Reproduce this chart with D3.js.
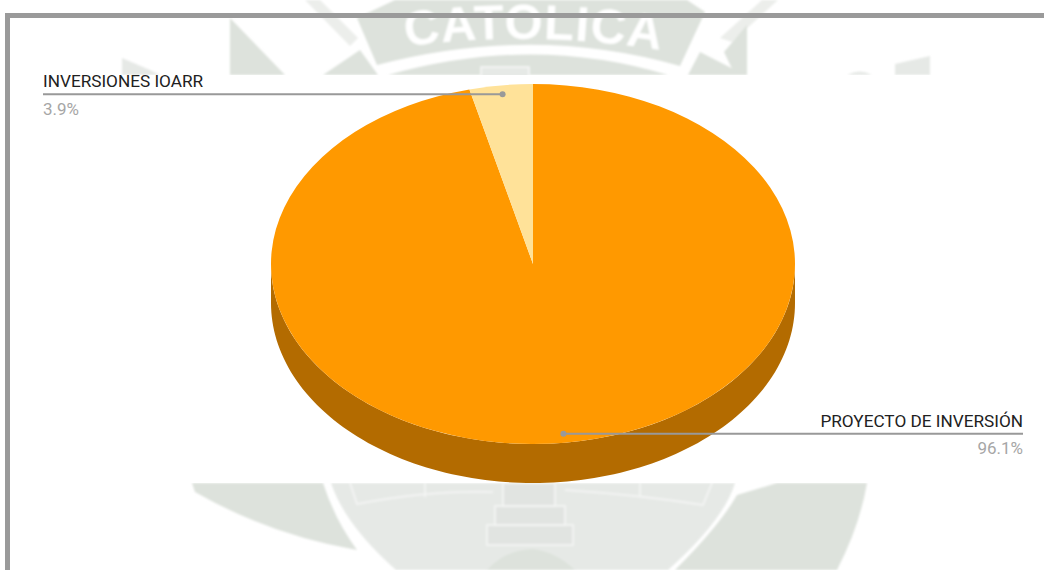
<!DOCTYPE html>
<html><head><meta charset="utf-8">
<style>html,body{margin:0;padding:0;background:#fff}svg{display:block}text{font-family:Roboto,sans-serif}</style>
<script src="https://cdnjs.cloudflare.com/ajax/libs/d3/7.8.5/d3.min.js"></script>
</head><body><svg id="c" width="1044" height="570"></svg>
<script>
const categories = ["PROYECTO DE INVERSIÓN", "INVERSIONES IOARR"];
const shares = [96.1, 3.9];
const shareLabels = ["96.1%", "3.9%"];
const sliceColors = ["#ff9900", "#ffe299"];
const sideColor = "#b36b00";

const W = 1044, H = 570;
const cx = 533, cy = 264, rx = 262, ry = 180, depth = 39;
const svg = d3.select("#c");

/* ---- watermark behind the chart ---- */
const defs = svg.append("defs");
defs.append("filter").attr("id", "soft").append("feGaussianBlur").attr("stdDeviation", 0.8);
const wm = svg.append("g").attr("filter", "url(#soft)");
const dark = "#dde2dc", lite = "#e6e9e6", stripe = "#eceeeb";
const poly = (d, f, o = 1) => wm.append("path").attr("d", d).attr("fill", f).attr("opacity", o);
poly("M230 18L285 75H230Z", dark);
poly("M305 0L320 0L358 38L350 46Z", stripe);
poly("M323 75L360 50L378 75Z", dark);
poly("M357 18L395 0H687L705 12L680 66Q533 24 377 65Z", dark);
poly("M388 75Q533 34 668 75Z", dark);
poly("M720 38L762 0H778L732 42Z", stripe);
poly("M747 25V75H735L724 52Z", dark);
poly("M700 52L745 75H688Z", dark);
poly("M895 64L930 56V75H895Z", lite);
poly("M847 75Q860 68 872 75Z", lite);
poly("M122 58L150 70L160 75H122Z", lite);
wm.append("rect").attr("x", 481).attr("y", 67).attr("width", 48).attr("height", 10)
  .attr("fill", lite).attr("stroke", "#f8f8f8").attr("stroke-width", 1.5);
defs.append("path").attr("id", "wmArc").attr("d", "M395 48Q533 28 672 52");
wm.append("text").attr("fill", "#fff").attr("font-size", 49).attr("font-weight", 700)
  .attr("letter-spacing", 1).attr("text-anchor", "middle").style("font-family", "Liberation Sans,sans-serif")
  .append("textPath").attr("href", "#wmArc").attr("startOffset", "50%").text("CATOLICA");

poly("M192 483H323Q335 520 357 550Q270 535 195 492Z", dark);
poly("M331 483H735Q724 520 668 570H396Q345 525 331 483Z", lite);
poly("M777 483H867Q860 525 837 570H675Q720 525 737 495Z", dark);
poly("M487 570Q505 550 533 549Q556 552 575 570Z", dark);
for (const [x, y, w, h] of [[487, 525, 86, 20], [495, 506, 70, 19], [503, 483, 52, 23]]) {
  wm.append("rect").attr("x", x).attr("y", y).attr("width", w).attr("height", h)
    .attr("fill", "#e1e4e1").attr("stroke", "#f6f7f6").attr("stroke-width", 1.5);
}
wm.append("path").attr("d", "M350 483L357 504Q430 490 493 492M565 490Q640 495 703 505L712 483M425 483V497M640 483V497")
  .attr("fill", "none").attr("stroke", "#f6f7f6").attr("stroke-width", 1.5);

/* ---- white plot panel and frame ---- */
svg.append("rect").attr("x", 0).attr("y", 75).attr("width", W).attr("height", 408).attr("fill", "#fff");
svg.append("rect").attr("x", 5).attr("y", 13).attr("width", W - 5).attr("height", 5).attr("fill", "#9a9a9a");
svg.append("rect").attr("x", 5).attr("y", 13).attr("width", 5).attr("height", H - 13).attr("fill", "#9a9a9a");

/* ---- pie ---- */
const pieLayout = d3.pie().sort(null)(shares);
const arc = d3.arc().innerRadius(0).outerRadius(rx);

const sideAngle = d3.scaleLinear().domain([0, 120]).range([Math.PI / 2, 3 * Math.PI / 2]);
const side = d3.area()
  .x(i => cx + rx * Math.sin(sideAngle(i)))
  .y0(i => cy - ry * Math.cos(sideAngle(i)))
  .y1(i => cy - ry * Math.cos(sideAngle(i)) + depth);
svg.append("path").attr("d", side(d3.range(121))).attr("fill", sideColor);

const pieG = svg.append("g").attr("transform", `translate(${cx},${cy}) scale(1,${ry / rx})`);
pieG.selectAll("path").data(pieLayout).join("path")
  .attr("d", arc).attr("fill", (d, i) => sliceColors[i]);

/* ---- leader lines and labels ---- */
const lineX = [1023, 43];
const anchorFrac = 0.95;
pieLayout.forEach((d, i) => {
  const a = (d.startAngle + d.endAngle) / 2;
  const ax = cx + rx * anchorFrac * Math.sin(a);
  const ay = cy - ry * anchorFrac * Math.cos(a);
  svg.append("line").attr("x1", ax).attr("y1", ay).attr("x2", lineX[i]).attr("y2", ay)
    .attr("stroke", "#999").attr("stroke-width", 2);
  svg.append("circle").attr("cx", ax).attr("cy", ay).attr("r", 3).attr("fill", "#999");
  const anchor = lineX[i] > cx ? "end" : "start";
  svg.append("text").attr("x", lineX[i]).attr("y", ay - 7).attr("text-anchor", anchor)
    .attr("font-size", 17.2).attr("fill", "#212121").text(categories[i]);
  svg.append("text").attr("x", lineX[i]).attr("y", ay + 20.5).attr("text-anchor", anchor)
    .attr("font-size", 17).attr("fill", "#a6a6a6").text(shareLabels[i]);
});
</script></body></html>
